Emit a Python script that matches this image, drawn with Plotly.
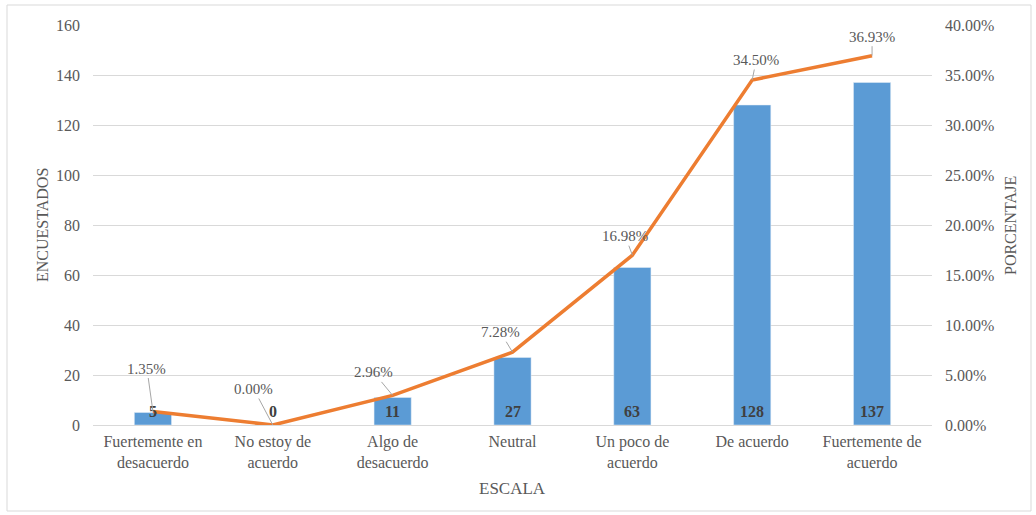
import plotly.graph_objects as go

categories = ["Fuertemente en<br>desacuerdo", "No estoy de<br>acuerdo", "Algo de<br>desacuerdo",
              "Neutral", "Un poco de<br>acuerdo", "De acuerdo", "Fuertemente de<br>acuerdo"]
counts = [5, 0, 11, 27, 63, 128, 137]
percents = [0.0135, 0.0, 0.0296, 0.0728, 0.1698, 0.3450, 0.3693]
pct_labels = ["1.35%", "0.00%", "2.96%", "7.28%", "16.98%", "34.50%", "36.93%"]
# label offsets (pixels) for the percentage callouts
label_dx = [-6, -19, -19, -12, -7, 4, 0]
label_dy = [-43, -36, -23, -20, -19, -20, -19]

W, H = 1036, 515
L, R, T, B = 93, 104, 25, 90
pw, ph = W - L - R, H - T - B

FONT = "Liberation Serif"
GRAY = "#595959"

fig = go.Figure()
fig.add_trace(go.Bar(x=categories, y=counts, marker_color="#5B9BD5", yaxis="y",
                     showlegend=False, hoverinfo="x+y"))
fig.add_trace(go.Scatter(x=categories, y=percents, mode="lines", yaxis="y2",
                         line=dict(color="#ED7D31", width=3.5), showlegend=False))

annotations = []
for c, v in zip(categories, counts):
    annotations.append(dict(x=c, y=0, xref="x", yref="y", text=f"<b>{v}</b>", showarrow=False,
                            yanchor="bottom", yshift=3,
                            font=dict(family=FONT, size=16, color="#404040")))
for c, p, t, dx, dy in zip(categories, percents, pct_labels, label_dx, label_dy):
    annotations.append(dict(x=c, y=p, xref="x", yref="y2", text=t, showarrow=True,
                            arrowhead=0, arrowwidth=1, arrowcolor="#a6a6a6",
                            ax=dx, ay=dy, standoff=0,
                            font=dict(family=FONT, size=15, color=GRAY)))
annotations.append(dict(text="ENCUESTADOS", xref="paper", yref="paper",
                        x=(42 - L) / pw, y=(H - B - 225) / ph, textangle=-90,
                        xanchor="center", yanchor="middle",
                        showarrow=False, font=dict(family=FONT, size=16, color=GRAY)))
annotations.append(dict(text="PORCENTAJE", xref="paper", yref="paper",
                        x=(1010 - L) / pw, y=(H - B - 225) / ph, textangle=-90,
                        xanchor="center", yanchor="middle",
                        showarrow=False, font=dict(family=FONT, size=16, color=GRAY)))
annotations.append(dict(text="ESCALA", xref="paper", yref="paper",
                        x=(512 - L) / pw, y=(H - B - 488) / ph,
                        xanchor="center", yanchor="middle",
                        showarrow=False, font=dict(family=FONT, size=17, color=GRAY)))

fig.update_layout(
    width=W, height=H,
    margin=dict(l=L, r=R, t=T, b=B),
    paper_bgcolor="white", plot_bgcolor="white",
    bargap=0.69,
    font=dict(family=FONT, size=16, color=GRAY),
    xaxis=dict(showline=False, ticks="", tickfont=dict(family=FONT, size=16, color=GRAY),
               ticklabelstandoff=5),
    yaxis=dict(range=[0, 160], dtick=20, showgrid=True, gridcolor="#d9d9d9", gridwidth=1,
               zeroline=True, zerolinecolor="#d9d9d9", zerolinewidth=1,
               ticks="", ticklabelstandoff=12,
               tickfont=dict(family=FONT, size=16, color=GRAY)),
    yaxis2=dict(range=[0, 0.4], dtick=0.05, tickformat=".2%", overlaying="y", side="right",
                showgrid=False, zeroline=False, ticks="", ticklabelstandoff=12,
                tickfont=dict(family=FONT, size=16, color=GRAY)),
    annotations=annotations,
    shapes=[dict(type="rect", xref="paper", yref="paper",
                 x0=(7 - L) / pw, x1=(1031 - L) / pw,
                 y0=(H - B - 511) / ph, y1=(H - B - 5) / ph,
                 line=dict(color="#d9d9d9", width=1), fillcolor="rgba(0,0,0,0)", layer="below")],
)

fig.write_html("out.html")
